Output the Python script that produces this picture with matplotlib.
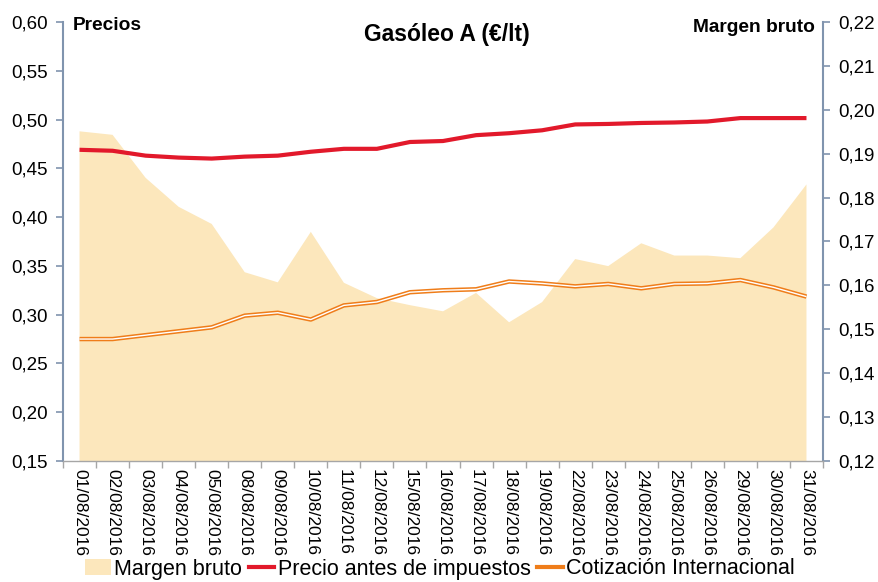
import matplotlib
matplotlib.use("Agg")
import matplotlib.pyplot as plt
from matplotlib.ticker import FixedLocator, FuncFormatter
from matplotlib.patches import Patch
from matplotlib.lines import Line2D
import matplotlib.patheffects as pe
import numpy as np

plt.rcParams['font.family'] = ['Liberation Sans', 'DejaVu Sans']

dates = ["01/08/2016", "02/08/2016", "03/08/2016", "04/08/2016", "05/08/2016",
         "08/08/2016", "09/08/2016", "10/08/2016", "11/08/2016", "12/08/2016",
         "15/08/2016", "16/08/2016", "17/08/2016", "18/08/2016", "19/08/2016",
         "22/08/2016", "23/08/2016", "24/08/2016", "25/08/2016", "26/08/2016",
         "29/08/2016", "30/08/2016", "31/08/2016"]

precio = [0.469, 0.468, 0.463, 0.461, 0.460, 0.462, 0.463, 0.467, 0.470, 0.470,
          0.477, 0.478, 0.484, 0.486, 0.489, 0.495, 0.4955, 0.4965, 0.497, 0.498,
          0.5015, 0.5015, 0.5015]

cotizacion = [0.275, 0.275, 0.279, 0.283, 0.287, 0.299, 0.302, 0.295, 0.3095, 0.313,
              0.323, 0.325, 0.326, 0.334, 0.332, 0.329, 0.3315, 0.327, 0.3315, 0.332,
              0.3355, 0.328, 0.3185]

margen = [0.1951, 0.1943, 0.1845, 0.1779, 0.1740, 0.1630, 0.1607, 0.1722, 0.1606, 0.1571,
          0.1555, 0.1541, 0.1583, 0.1516, 0.1562, 0.1660, 0.1644, 0.1696, 0.1668, 0.1668,
          0.1662, 0.1732, 0.1830]

left_ticks = [0.15, 0.20, 0.25, 0.30, 0.35, 0.40, 0.45, 0.50, 0.55, 0.60]
right_ticks = [0.12, 0.13, 0.14, 0.15, 0.16, 0.17, 0.18, 0.19, 0.20, 0.21, 0.22]

AREA = "#FCE7BC"
RED = "#E2192B"
ORANGE = "#EF7D1A"
SPINE = "#8094AE"

fig = plt.figure(figsize=(8.79, 5.82), dpi=100)
ax = fig.add_axes([63/879, 1-461/582, (823-63)/879, (461-22)/582])
ax2 = ax.twinx()

x = np.arange(len(dates))

# area on the right axis, drawn below
ax2.fill_between(x, 0, margen, color=AREA, lw=0, zorder=1)
ax2.set_ylim(0.12, 0.22)
ax.set_zorder(ax2.get_zorder() + 1)
ax.patch.set_visible(False)

ax.plot(x, precio, color=RED, lw=3, solid_capstyle='butt', zorder=3)
ax.plot(x, cotizacion, color=ORANGE, lw=3.2, zorder=3, solid_capstyle='butt')
ax.plot(x, cotizacion, color="white", lw=1.0, zorder=4, solid_capstyle='butt')

ax.set_ylim(0.15, 0.60)
ax.set_xlim(-0.5, len(dates) - 0.5)

fmt2 = FuncFormatter(lambda v, p: f"{v:.2f}".replace(".", ","))
ax.yaxis.set_major_locator(FixedLocator(left_ticks))
ax.yaxis.set_major_formatter(fmt2)
ax2.yaxis.set_major_locator(FixedLocator(right_ticks))
ax2.yaxis.set_major_formatter(fmt2)

ax.set_xticks(x)
ax.set_xticklabels(dates, rotation=270, fontsize=12.5, va='top', ha='center')
ax.set_xticks(np.arange(-0.5, len(dates) + 0.5, 1), minor=True)
ax.tick_params(axis='x', which='major', length=0, pad=6)
ax.tick_params(axis='x', which='minor', length=5, color="#A6A6A6", width=1)
ax2.tick_params(axis='x', which='both', length=0)

for a in (ax, ax2):
    for s in a.spines.values():
        s.set_visible(False)

ax.spines['left'].set_visible(True)
ax.spines['left'].set_color(SPINE)
ax.spines['left'].set_linewidth(1.5)
ax.spines['bottom'].set_visible(True)
ax.spines['bottom'].set_color("#A6A6A6")
ax.spines['bottom'].set_linewidth(1)
ax2.spines['right'].set_visible(True)
ax2.spines['right'].set_color(SPINE)
ax2.spines['right'].set_linewidth(1.5)

ax.tick_params(axis='y', length=5, width=1.2, color=SPINE, labelsize=13.5, pad=6)
ax2.tick_params(axis='y', length=5, width=1.2, color=SPINE, labelsize=13.5, pad=6)

fig.text(447/879, 1-35/582, "Gasóleo A (€/lt)", fontsize=16.5, fontweight='bold',
         ha='center', va='center')
fig.text(73/879, 1-25/582, "Precios", fontsize=13.8, fontweight='bold',
         ha='left', va='center')
fig.text(815/879, 1-27/582, "Margen bruto", fontsize=13.8, fontweight='bold',
         ha='right', va='center')

handles = [Patch(facecolor=AREA, edgecolor='none'),
           Line2D([0], [0], color=RED, lw=3),
           Line2D([0], [0], color=ORANGE, lw=3)]
labels = ["Margen bruto", "Precio antes de impuestos", "Cotización Internacional"]
fig.legend(handles, labels, loc='center', bbox_to_anchor=(440/879, 1-569/582),
           ncol=3, frameon=False, fontsize=15.5, handlelength=1.2,
           handletextpad=0.15, columnspacing=0.3, borderaxespad=0, borderpad=0)

fig.savefig("out.png", dpi=100)
